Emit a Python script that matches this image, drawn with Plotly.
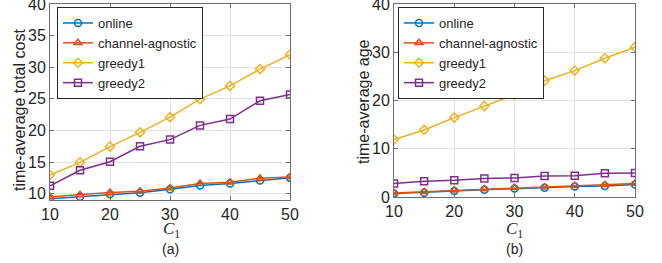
import plotly.graph_objects as go

C1 = [10, 15, 20, 25, 30, 35, 40, 45, 50]
names = ["online", "channel-agnostic", "greedy1", "greedy2"]

cost_online = [9.2, 9.5, 9.9, 10.15, 10.7, 11.3, 11.6, 12.1, 12.5]
cost_agnostic = [9.5, 9.85, 10.2, 10.4, 10.9, 11.6, 11.8, 12.45, 12.65]
cost_greedy1 = [12.95, 14.95, 17.45, 19.7, 22.1, 24.95, 27.05, 29.7, 32.0]
cost_greedy2 = [11.25, 13.7, 15.05, 17.5, 18.55, 20.8, 21.8, 24.7, 25.7]

age_online = [0.7, 0.9, 1.25, 1.5, 1.75, 1.9, 2.2, 2.3, 2.6]
age_agnostic = [0.85, 1.1, 1.4, 1.65, 1.9, 2.0, 2.35, 2.55, 2.8]
age_greedy1 = [11.9, 13.9, 16.45, 18.85, 21.2, 24.1, 26.2, 28.75, 31.05]
age_greedy2 = [2.8, 3.25, 3.45, 3.85, 3.95, 4.35, 4.4, 4.9, 4.95]

x_ticks = [10, 20, 30, 40, 50]
cost_ticks = [10, 15, 20, 25, 30, 35, 40]
age_ticks = [0, 10, 20, 30, 40]

colors = ["#0072BD", "#D95319", "#EDB120", "#7E2F8E"]
symbols = ["circle-open", "triangle-up-open", "diamond-open", "square-open"]

W, H = 662, 263
FONT = "Liberation Sans, Arial, sans-serif"
AX = "#6e6e6e"
TXT = "#262626"

fig = go.Figure()
for i, ys in enumerate([cost_online, cost_agnostic, cost_greedy1, cost_greedy2]):
    fig.add_trace(go.Scatter(
        x=C1, y=ys, name=names[i], mode="lines+markers",
        line=dict(color=colors[i], width=1.5),
        marker=dict(symbol=symbols[i], size=7, color=colors[i], line=dict(width=1.5, color=colors[i])),
        xaxis="x", yaxis="y", legend="legend"))
for i, ys in enumerate([age_online, age_agnostic, age_greedy1, age_greedy2]):
    fig.add_trace(go.Scatter(
        x=C1, y=ys, name=names[i], mode="lines+markers",
        line=dict(color=colors[i], width=1.5),
        marker=dict(symbol=symbols[i], size=7, color=colors[i], line=dict(width=1.5, color=colors[i])),
        xaxis="x2", yaxis="y2", legend="legend2"))

def px_x(p):
    return p / W

def px_y(p):
    return 1 - p / H

axis_common = dict(
    showline=True, linecolor=AX, linewidth=1, mirror="ticks",
    ticks="inside", ticklen=4, tickcolor=AX, automargin=False,
    ticklabeloverflow="allow",
    showgrid=True, gridcolor="#e3e3e3", gridwidth=1,
    zeroline=False, tickfont=dict(family=FONT, size=16, color=TXT),
)

leg_common = dict(xanchor="left", yanchor="top",
                  bgcolor="white", bordercolor=TXT, borderwidth=1,
                  font=dict(family=FONT, size=13, color=TXT),
                  tracegroupgap=0, itemwidth=30)

fig.update_layout(
    width=W, height=H,
    margin=dict(l=0, r=0, t=0, b=0, autoexpand=False),
    paper_bgcolor="white", plot_bgcolor="white",
    showlegend=True,
    xaxis=dict(domain=[px_x(50), px_x(290)], range=[10, 50], tickvals=x_ticks,
               anchor="y", **axis_common),
    yaxis=dict(domain=[px_y(200), px_y(4)], range=[9, 40.0001], tickvals=cost_ticks,
               anchor="x", **axis_common),
    xaxis2=dict(domain=[px_x(394), px_x(635)], range=[10, 50], tickvals=x_ticks,
                anchor="y2", **axis_common),
    yaxis2=dict(domain=[px_y(197), px_y(4)], range=[0, 40.0001], tickvals=age_ticks,
                anchor="x2", **axis_common),
    legend=dict(x=px_x(57), y=px_y(7), **leg_common),
    legend2=dict(x=px_x(398), y=px_y(7), **leg_common),
)

ann = [
    dict(x=px_x(19), y=px_y(110), text="time-average total cost", textangle=-90,
         font=dict(family=FONT, size=16, color=TXT)),
    dict(x=px_x(363), y=px_y(102), text="time-average age", textangle=-90,
         font=dict(family=FONT, size=16, color=TXT)),
    dict(x=px_x(171), y=px_y(229.5), text="<i>C</i><sub>1</sub>",
         font=dict(family="Liberation Serif, Times New Roman, serif", size=17, color=TXT)),
    dict(x=px_x(514), y=px_y(229.5), text="<i>C</i><sub>1</sub>",
         font=dict(family="Liberation Serif, Times New Roman, serif", size=17, color=TXT)),
    dict(x=px_x(170), y=px_y(249), text="(a)",
         font=dict(family=FONT, size=14, color=TXT)),
    dict(x=px_x(514), y=px_y(249), text="(b)",
         font=dict(family=FONT, size=14, color=TXT)),
]
for a in ann:
    a.update(xref="paper", yref="paper", showarrow=False, xanchor="center", yanchor="middle")
    fig.add_annotation(**a)

fig.write_html("out.html", config={"displayModeBar": False},
               post_script="document.body.style.margin='0px';document.body.style.overflow='hidden';")
